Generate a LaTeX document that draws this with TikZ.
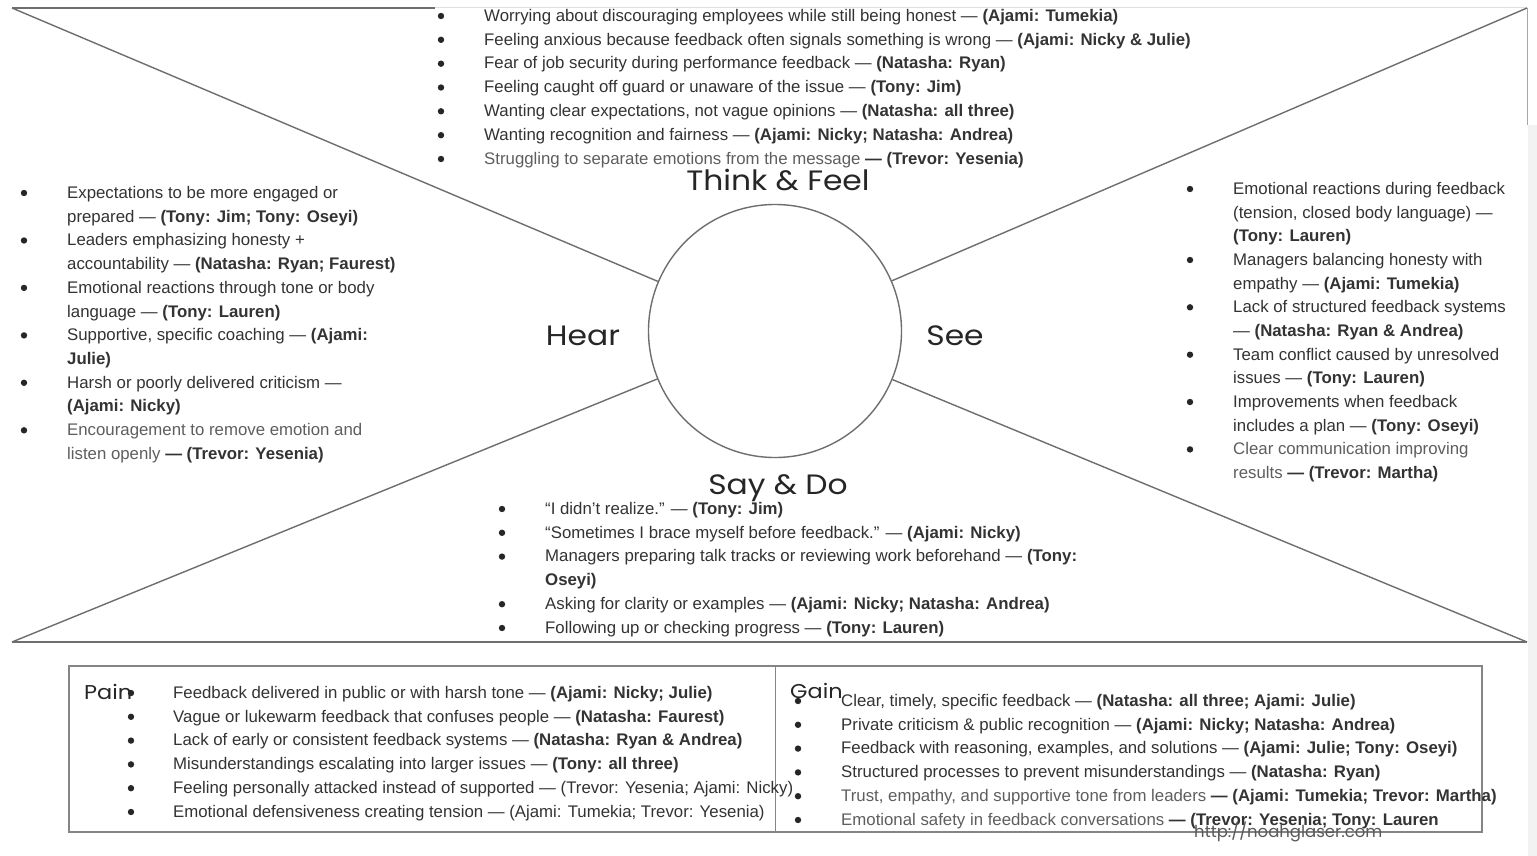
\documentclass[tikz,border=0pt]{standalone}
\usepackage{fontspec}
\setmainfont{Liberation Sans}
\newfontfamily\labfont[FakeStretch=1.12]{Poppins}
\newfontfamily\wmfont{Poppins}
\definecolor{txtc}{HTML}{333333}
\definecolor{greyt}{HTML}{5E5E5E}
\definecolor{linec}{HTML}{6E6E6E}
\definecolor{boxc}{HTML}{858585}
\tikzset{
  txt/.style={font=\fontsize{16.8}{20}\selectfont, text=txtc, inner sep=0pt, anchor=base west},
  bul/.style={circle, fill=black!85, inner sep=0pt, minimum size=6.4pt},
  ln/.style={draw=linec, line width=1.4pt},
  lab/.style={font=\labfont\fontsize{28}{32}\selectfont, text=black!85, inner sep=0pt, anchor=base},
  smlab/.style={font=\labfont\fontsize{20}{24}\selectfont, text=black!85, inner sep=0pt, anchor=base west},
}
\newcommand\itm[5]{\node[bul] (#1b) at (#2,#4-4.5) {};\node[txt] (#1) at (#3,#4+0.8) {#5};}
\newcommand\cnt[4]{\node[txt] (#1) at (#2,#3+0.8) {#4};}
\begin{document}
\begin{tikzpicture}[x=1pt,y=-1pt]
\useasboundingbox (0,0) rectangle (1537,856);
\fill[white] (0,0) rectangle (1537,856);
% right edge band
\fill[black!5] (1528,125) rectangle (1537,856);
% frame
\coordinate (tl) at (12,8);
\coordinate (tr) at (1527,8);
\coordinate (bl) at (12,642);
\coordinate (br) at (1527,642);
\coordinate (tm) at (435,8);
\coordinate (rv) at (1527,125);
\draw[ln] (tl) -- (tm);
\draw[draw=black!12, line width=1pt] (tm) -- (tr);
\draw[draw=black!35, line width=1pt] (tr) -- (rv);
\draw[ln] (bl) -- (br);
\node[circle, draw=linec, line width=1.4pt, minimum size=253pt, inner sep=0pt] (c) at (775,331) {};
\draw[ln] (tl) -- (c);
\draw[ln] (tr) -- (c);
\draw[ln] (bl) -- (c);
\draw[ln] (br) -- (c);
% labels
\node[lab] (think) at (778,190) {Think \& Feel};
\node[lab] (hear) at (583,345) {Hear};
\node[lab] (see) at (955,345) {See};
\node[lab] (say) at (778,494) {Say \& Do};
% top list
\itm{t1}{441}{484}{20.5}{Worrying about discouraging employees while still being honest — \textbf{(Ajami: Tumekia)}}
\itm{t2}{441}{484}{44.3}{Feeling anxious because feedback often signals something is wrong — \textbf{(Ajami: Nicky \& Julie)}}
\itm{t3}{441}{484}{68.2}{Fear of job security during performance feedback — \textbf{(Natasha: Ryan)}}
\itm{t4}{441}{484}{92.0}{Feeling caught off guard or unaware of the issue — \textbf{(Tony: Jim)}}
\itm{t5}{441}{484}{115.8}{Wanting clear expectations, not vague opinions — \textbf{(Natasha: all three)}}
\itm{t6}{441}{484}{139.7}{Wanting recognition and fairness — \textbf{(Ajami: Nicky; Natasha: Andrea)}}
\itm{t7}{441}{484}{163.5}{\color{greyt}Struggling to separate emotions from the message \textcolor{txtc}{\textbf{— (Trevor: Yesenia)}}}
% left list (Hear)
\itm{h1}{24}{67}{197.5}{Expectations to be more engaged or}
\cnt{h1a}{67}{221.2}{prepared — \textbf{(Tony: Jim; Tony: Oseyi)}}
\itm{h2}{24}{67}{245.0}{Leaders emphasizing honesty +}
\cnt{h2a}{67}{268.7}{accountability — \textbf{(Natasha: Ryan; Faurest)}}
\itm{h3}{24}{67}{292.4}{Emotional reactions through tone or body}
\cnt{h3a}{67}{316.2}{language — \textbf{(Tony: Lauren)}}
\itm{h4}{24}{67}{339.9}{Supportive, specific coaching — \textbf{(Ajami:}}
\cnt{h4a}{67}{363.6}{\textbf{Julie)}}
\itm{h5}{24}{67}{387.3}{Harsh or poorly delivered criticism —}
\cnt{h5a}{67}{411.1}{\textbf{(Ajami: Nicky)}}
\itm{h6}{24}{67}{434.8}{\color{greyt}Encouragement to remove emotion and}
\cnt{h6a}{67}{458.5}{\color{greyt}listen openly \textcolor{txtc}{\textbf{— (Trevor: Yesenia)}}}
% right list (See)
\itm{s1}{1190}{1233}{193.5}{Emotional reactions during feedback}
\cnt{s1a}{1233}{217.2}{(tension, closed body language) —}
\cnt{s1b}{1233}{240.8}{\textbf{(Tony: Lauren)}}
\itm{s2}{1190}{1233}{264.5}{Managers balancing honesty with}
\cnt{s2a}{1233}{288.2}{empathy — \textbf{(Ajami: Tumekia)}}
\itm{s3}{1190}{1233}{311.8}{Lack of structured feedback systems}
\cnt{s3a}{1233}{335.5}{— \textbf{(Natasha: Ryan \& Andrea)}}
\itm{s4}{1190}{1233}{359.2}{Team conflict caused by unresolved}
\cnt{s4a}{1233}{382.9}{issues — \textbf{(Tony: Lauren)}}
\itm{s5}{1190}{1233}{406.5}{Improvements when feedback}
\cnt{s5a}{1233}{430.2}{includes a plan — \textbf{(Tony: Oseyi)}}
\itm{s6}{1190}{1233}{453.9}{\color{greyt}Clear communication improving}
\cnt{s6a}{1233}{477.5}{\color{greyt}results \textcolor{txtc}{\textbf{— (Trevor: Martha)}}}
% bottom list (Say & Do)
\itm{d1}{502}{545}{513.5}{“I didn’t realize.” — \textbf{(Tony: Jim)}}
\itm{d2}{502}{545}{537.3}{“Sometimes I brace myself before feedback.” — \textbf{(Ajami: Nicky)}}
\itm{d3}{502}{545}{561.1}{Managers preparing talk tracks or reviewing work beforehand — \textbf{(Tony:}}
\cnt{d3a}{545}{584.9}{\textbf{Oseyi)}}
\itm{d4}{502}{545}{608.7}{Asking for clarity or examples — \textbf{(Ajami: Nicky; Natasha: Andrea)}}
\itm{d5}{502}{545}{632.5}{Following up or checking progress — \textbf{(Tony: Lauren)}}
% pain/gain box
\node[draw=boxc, line width=1.5pt, minimum width=1413pt, minimum height=166pt, inner sep=0pt, anchor=north west] (box) at (68,665) {};
\draw[draw=boxc, line width=1.5pt] (box.north) -- (box.south);
\node[smlab] (pain) at (84,699) {Pain};
\node[smlab] (gain) at (790,698) {Gain};
\itm{p1}{131}{173}{697.5}{Feedback delivered in public or with harsh tone — \textbf{(Ajami: Nicky; Julie)}}
\itm{p2}{131}{173}{721.3}{Vague or lukewarm feedback that confuses people — \textbf{(Natasha: Faurest)}}
\itm{p3}{131}{173}{745.1}{Lack of early or consistent feedback systems — \textbf{(Natasha: Ryan \& Andrea)}}
\itm{p4}{131}{173}{768.9}{Misunderstandings escalating into larger issues — \textbf{(Tony: all three)}}
\itm{p5}{131}{173}{792.7}{Feeling personally attacked instead of supported — (Trevor: Yesenia; Ajami: Nicky)}
\itm{p6}{131}{173}{816.5}{Emotional defensiveness creating tension — (Ajami: Tumekia; Trevor: Yesenia)}
\itm{g1}{798}{841}{705.5}{Clear, timely, specific feedback — \textbf{(Natasha: all three; Ajami: Julie)}}
\itm{g2}{798}{841}{729.3}{Private criticism \& public recognition — \textbf{(Ajami: Nicky; Natasha: Andrea)}}
\itm{g3}{798}{841}{753.1}{Feedback with reasoning, examples, and solutions — \textbf{(Ajami: Julie; Tony: Oseyi)}}
\itm{g4}{798}{841}{776.9}{Structured processes to prevent misunderstandings — \textbf{(Natasha: Ryan)}}
\itm{g5}{798}{841}{800.7}{\color{greyt}Trust, empathy, and supportive tone from leaders \textcolor{txtc}{\textbf{— (Ajami: Tumekia; Trevor: Martha)}}}
\itm{g6}{798}{841}{824.5}{\color{greyt}Emotional safety in feedback conversations \textcolor{txtc}{\textbf{— (Trevor: Yesenia; Tony: Lauren}}}
% watermark
\node[font=\wmfont\fontsize{16.5}{18}\selectfont, text=black!65, inner sep=0pt, anchor=base west] (wm) at (1194,837) {http://noahglaser.com};
\end{tikzpicture}
\end{document}
